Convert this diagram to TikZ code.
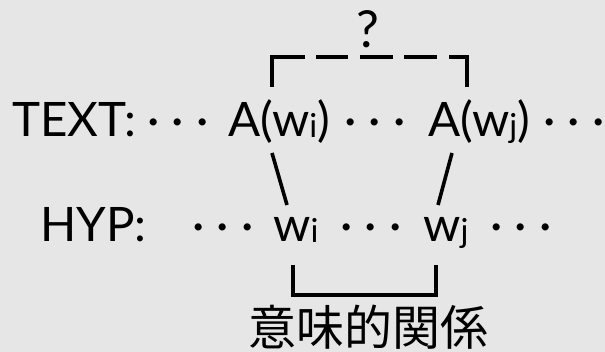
\documentclass[tikz,border=0pt]{standalone}
\usepackage{fontspec}
\setmainfont{Lato}
\newfontfamily\jpfont{Noto Sans CJK JP}
\definecolor{bg}{HTML}{E6E6E6}
\newcommand{\mainsz}{\fontsize{47.5}{50}\selectfont}
\newcommand{\subsz}{\fontsize{33}{35}\selectfont}
\newcommand{\dts}{\makebox[24.5pt]{·}\makebox[24.5pt]{·}\makebox[24.5pt]{·}}
\newcommand{\sbi}[1]{\raisebox{-1pt}{\subsz #1}}
\tikzset{
  lbl/.style={inner sep=0pt, anchor=base west, font=\mainsz},
  dotrow/.style={inner sep=0pt, anchor=base, font=\mainsz},
  link/.style={line width=3.6pt},
  brk/.style={line width=3.6pt, line join=miter},
}
\begin{document}
\begin{tikzpicture}[x=1pt,y=1pt]
\fill[bg] (0,0) rectangle (605,352);
\useasboundingbox (0,0) rectangle (605,352);
% TEXT line
\node[lbl] (text) at (12,215) {TEXT:};
\node[dotrow] (td1) at (178,215) {\dts};
\node[lbl] (awi) at (228,215) {A(w\sbi{i})};
\node[dotrow] (td2) at (375,215) {\dts};
\node[lbl] (awj) at (428,215) {A(w\sbi{j})};
\node[dotrow] (td3) at (574,215) {\dts};
% HYP line
\node[lbl] (hyp) at (40,110) {HYP:};
\node[dotrow] (hd1) at (223,110) {\dts};
\node[lbl] (wi) at (273,110) {w\sbi{i}};
\node[dotrow] (hd2) at (371,110) {\dts};
\node[lbl] (wj) at (423,110) {w\sbi{j}};
\node[dotrow] (hd3) at (521,110) {\dts};
% question and relation
\node[inner sep=0pt, anchor=base, font=\fontsize{51}{53}\selectfont] (q) at (368,304) {?};
\node[inner sep=0pt, anchor=base, font=\jpfont\fontsize{48}{50}\selectfont] (rel) at (368,6) {意味的関係};
% coordinates
\coordinate (bl) at (272,265);
\coordinate (br) at (467,265);
\coordinate (sla) at (272,199);
\coordinate (slb) at (287,147);
\coordinate (sra) at (452,199);
\coordinate (srb) at (438,147);
\coordinate (ul) at (293,87);
\coordinate (ur) at (436,87);
% dashed bracket above
\draw[brk, dash pattern=on 63pt off 11pt on 32pt off 12pt on 33pt off 11pt on 33pt off 12pt on 60pt]
  (bl) |- (q.south |- 0,295) -| (br);
% links
\draw[link] (sla) -- (slb);
\draw[link] (sra) -- (srb);
% bottom bracket
\draw[brk] (ul) |- (368,57) -| (ur);
\end{tikzpicture}
\end{document}
